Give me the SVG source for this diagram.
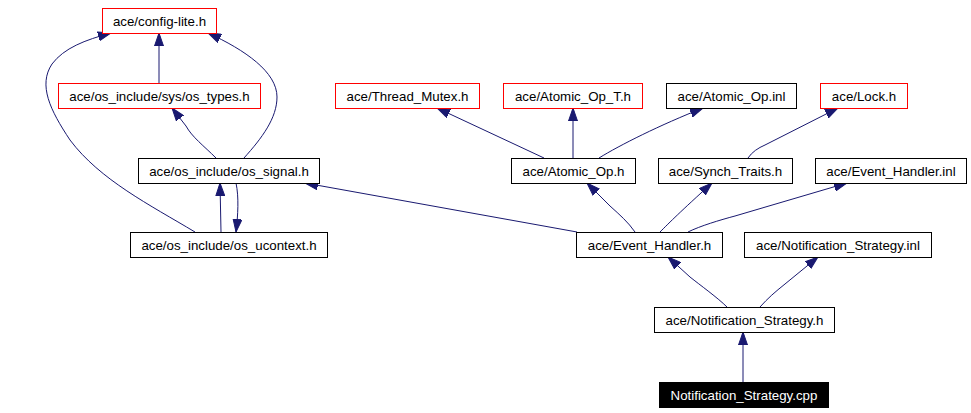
<svg xmlns="http://www.w3.org/2000/svg" width="971" height="413" viewBox="0 0 971 413">
<style>
.n rect{fill:#fff;stroke:#000;stroke-width:1}
.r rect{stroke:#f00}
.n text{font-family:"Liberation Sans",Arial,sans-serif;font-size:13.3px;fill:#000;text-anchor:middle}
.cur rect{fill:#000;stroke:#000}
.cur text{fill:#fff}
.e path{fill:none;stroke:#191970;stroke-width:1;marker-end:url(#ah)}
</style>
<defs>
<marker id="ah" markerUnits="userSpaceOnUse" markerWidth="14" markerHeight="10" viewBox="0 -5 14 10" refX="13" refY="0" orient="auto">
<path d="M0,-4.5 L13,0 L0,4.5 z" fill="#191970" stroke="#191970" stroke-width="1"/>
</marker>
</defs>
<rect width="971" height="413" fill="#fff"/>
<g id="edges" class="e">
<path d="M159,83 L159,33"/>
<path d="M216,158 C204,146 192,137 186,126 L172,108"/>
<path d="M244,158 C262,138 277,118 277,97 C277,72 245,50 208,33"/>
<path d="M195,232 C150,205 100,180 70,140 C50,110 38,85 52,64 C64,48 85,40 111,33"/>
<path d="M221,232 L220,183"/>
<path d="M236,183 C239,197 238,215 236,232"/>
<path d="M577,232 L305,183"/>
<path d="M544,158 L437,108"/>
<path d="M573,158 L573,108"/>
<path d="M599,158 C620,145 660,125 703,108"/>
<path d="M635,232 C628,222 620,215 610,206 L587,183"/>
<path d="M748,158 C752,152 758,148 765,145 L838,108"/>
<path d="M660,232 C670,222 680,212 712,183"/>
<path d="M688,232 C700,226 720,220 735,216 L847,183"/>
<path d="M727,307 C718,298 700,285 690,277 L668,257"/>
<path d="M760,307 C768,298 775,292 785,284 L818,257"/>
<path d="M743,382 L743,332"/>
</g>
<g id="config_lite" class="n r"><rect x="102.5" y="8.5" width="114" height="25"/><text x="159.5" y="25.5">ace/config-lite.h</text></g>
<g id="os_types" class="n r"><rect x="58.5" y="83.5" width="202" height="25"/><text x="159.5" y="100.5">ace/os_include/sys/os_types.h</text></g>
<g id="os_signal" class="n"><rect x="138.5" y="158.5" width="181" height="25"/><text x="229" y="175.5">ace/os_include/os_signal.h</text></g>
<g id="os_ucontext" class="n"><rect x="130.5" y="232.5" width="197" height="25"/><text x="229" y="249.5">ace/os_include/os_ucontext.h</text></g>
<g id="thread_mutex" class="n r"><rect x="335.5" y="83.5" width="144" height="25"/><text x="407.5" y="100.5">ace/Thread_Mutex.h</text></g>
<g id="atomic_op_t" class="n r"><rect x="503.5" y="83.5" width="139" height="25"/><text x="573" y="100.5">ace/Atomic_Op_T.h</text></g>
<g id="atomic_op_inl" class="n"><rect x="666.5" y="83.5" width="130" height="25"/><text x="731.5" y="100.5">ace/Atomic_Op.inl</text></g>
<g id="lock" class="n r"><rect x="820.5" y="83.5" width="87" height="25"/><text x="864" y="100.5">ace/Lock.h</text></g>
<g id="atomic_op" class="n"><rect x="511.5" y="158.5" width="124" height="25"/><text x="573.5" y="175.5">ace/Atomic_Op.h</text></g>
<g id="synch_traits" class="n"><rect x="658.5" y="158.5" width="134" height="25"/><text x="725.5" y="175.5">ace/Synch_Traits.h</text></g>
<g id="event_handler_inl" class="n"><rect x="815.5" y="158.5" width="151" height="25"/><text x="891" y="175.5">ace/Event_Handler.inl</text></g>
<g id="event_handler" class="n"><rect x="576.5" y="232.5" width="146" height="25"/><text x="649.5" y="249.5">ace/Event_Handler.h</text></g>
<g id="notif_inl" class="n"><rect x="744.5" y="232.5" width="187" height="25"/><text x="838" y="249.5">ace/Notification_Strategy.inl</text></g>
<g id="notif_h" class="n"><rect x="654.5" y="307.5" width="180" height="25"/><text x="744.5" y="324.5">ace/Notification_Strategy.h</text></g>
<g id="notif_cpp" class="n cur"><rect x="659.5" y="382.5" width="169" height="25"/><text x="744" y="399.5">Notification_Strategy.cpp</text></g>
</svg>
